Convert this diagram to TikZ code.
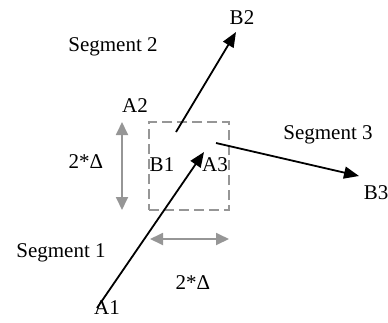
\documentclass[tikz,border=0pt]{standalone}
\usepackage{fontspec}
\setmainfont{Liberation Serif}
\usetikzlibrary{arrows.meta}
\begin{document}
\begin{tikzpicture}[x=1pt,y=-1pt,
  lbl/.style={inner sep=0pt,font=\fontsize{21}{25}\selectfont},
  seg/.style={line width=1.8pt,-{Triangle[length=15pt,width=12pt]}},
  dim/.style={line width=1.8pt,draw={rgb,255:red,150;green,150;blue,150},
    {Triangle[length=13pt,width=12pt]}-{Triangle[length=13pt,width=12pt]}},
  boxst/.style={draw={rgb,255:red,150;green,150;blue,150},line width=2.4pt,
    dash pattern=on 10pt off 5pt,minimum width=80pt,minimum height=88pt,inner sep=0pt}]
\useasboundingbox (0,0) rectangle (388,322);
% labels
\node[lbl] (B2) at (242,18) {B2};
\node[lbl] (S2) at (113,47) {Segment 2};
\node[lbl] (A2) at (135,106) {A2};
\node[lbl] (D1) at (86,162) {2*Δ};
\node[lbl] (B1) at (162,165) {B1};
\node[lbl] (A3) at (215,165) {A3};
\node[lbl] (S3) at (328,135) {Segment 3};
\node[lbl] (B3) at (376,193) {B3};
\node[lbl] (S1) at (61,253) {Segment 1};
\node[lbl] (D2) at (193,283) {2*Δ};
\node[lbl] (A1) at (107,308) {A1};
% box
\node[boxst] (box) at (189,166) {};
% points
\coordinate (p1s) at (97,308);
\coordinate (p1e) at (204,152);
\coordinate (p2s) at (176,132);
\coordinate (p2e) at (236,32);
\coordinate (p3s) at (216,143);
\coordinate (p3e) at (359,176);
\coordinate (v1) at (122,122);
\coordinate (v2) at (122,210);
\coordinate (h1) at (150,239);
\coordinate (h2) at (229,239);
% segments
\draw[seg] (p1s) -- (p1e);
\draw[seg] (p2s) -- (p2e);
\draw[seg] (p3s) -- (p3e);
% dimension arrows
\draw[dim] (v1) -- (v2);
\draw[dim] (h1) -- (h2);
\end{tikzpicture}
\end{document}
